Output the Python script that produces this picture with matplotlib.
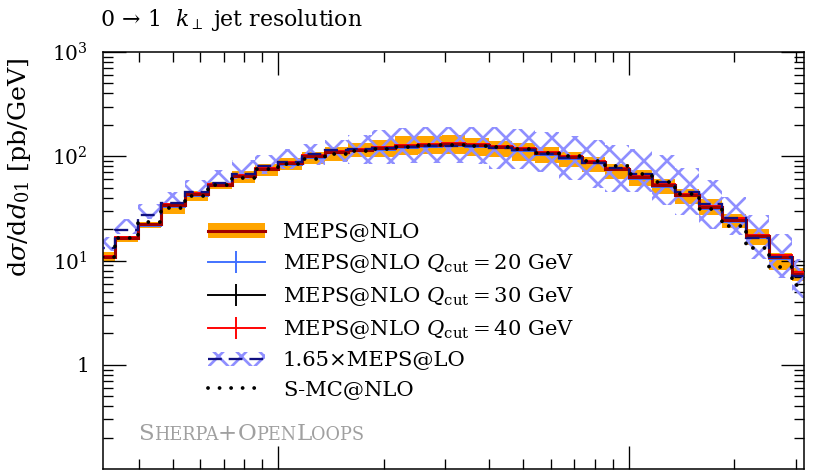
import numpy as np
import matplotlib
matplotlib.use("Agg")
import matplotlib.pyplot as plt
from matplotlib.patches import Patch
from matplotlib.lines import Line2D

W, H, DPI = 830, 473, 138

# ---- data -------------------------------------------------------------
# bin edges: 15 log-bins per decade
edges = np.logspace(1 - 8 / 15, 1 + 23 / 15, 32)

meps_nlo = [10.9, 16.6, 22.2, 33.9, 43.2, 53.3, 65.2, 75.7, 85.8, 100.0, 110.9,
            115.8, 120.0, 125.4, 128.2, 131.0, 127.3, 123.7, 116.6, 106.8, 97.8,
            89.0, 75.7, 63.1, 52.6, 42.5, 32.7, 24.6, 17.1, 10.9, 7.5]
meps_nlo_lo = [9.93, 14.9, 20.3, 27.8, 37.3, 48.0, 55.3, 64.5, 73.1, 83.4, 91.0,
               99.3, 99.3, 102.9, 105.2, 105.2, 101.5, 99.3, 91.0, 86.3, 78.6,
               70.4, 60.8, 51.4, 43.0, 34.7, 27.4, 20.6, 14.1, 8.15, 6.31]
meps_nlo_hi = [12.0, 17.3, 23.5, 35.1, 46.4, 56.5, 71.5, 84.5, 95.7, 110.9, 123.7,
               133.0, 144.2, 157.4, 157.4, 160.9, 149.4, 141.1, 133.0, 121.8, 109.2,
               99.3, 84.5, 73.1, 60.0, 48.8, 38.7, 28.0, 20.0, 11.8, 8.45]

qcut20 = [10.5, 16.0, 21.5, 32.6, 41.6, 51.5, 63.0, 73.1, 82.6, 96.5, 107.0,
          111.5, 116.0, 120.8, 123.6, 126.5, 122.6, 119.0, 112.5, 102.9, 94.4,
          85.9, 73.2, 61.0, 50.9, 41.2, 31.5, 23.6, 16.3, 10.3, 7.1]
qcut30 = [10.8, 16.5, 22.0, 33.5, 42.8, 52.9, 64.6, 75.1, 85.0, 99.1, 110.0,
          114.8, 119.0, 124.2, 127.1, 129.8, 126.1, 122.6, 115.5, 105.9, 96.9,
          88.2, 75.0, 62.5, 52.0, 42.0, 32.3, 24.3, 16.8, 10.7, 7.35]
qcut40 = [11.1, 16.9, 22.6, 34.5, 44.0, 54.3, 66.4, 77.1, 87.4, 101.8, 112.9,
          118.0, 122.3, 127.8, 130.6, 133.5, 129.8, 126.1, 118.9, 108.9, 99.7,
          90.8, 77.3, 64.4, 53.8, 43.5, 33.5, 25.3, 17.6, 11.3, 7.8]

meps_lo = [13.3, 19.6, 27.2, 35.9, 45.4, 55.3, 67.8, 80.3, 89.0, 104.5, 114.0,
           116.6, 119.2, 123.2, 124.5, 125.9, 124.5, 119.2, 114.0, 104.5, 95.7,
           85.8, 76.9, 67.4, 56.5, 45.4, 34.9, 25.7, 16.6, 10.7, 7.04]
meps_lo_dn = [12.2, 18.1, 25.1, 34.1, 43.5, 51.8, 60.4, 67.4, 75.2, 82.1, 87.7,
              83.9, 83.9, 85.8, 85.8, 85.8, 83.9, 75.7, 75.7, 70.4, 59.1,
              49.6, 45.4, 45.4, 34.1, 27.4, 20.2, 17.7, 10.4, 6.74, 4.35]
meps_lo_up = [16.9, 25.1, 35.1, 45.4, 59.1, 73.6, 91.6, 102.2, 116.6, 131.0, 142.0,
              158.5, 176.9, 184.8, 188.9, 188.9, 188.9, 188.9, 182.0, 169.3, 155.0,
              142.0, 127.3, 116.6, 102.2, 76.9, 59.1, 40.7, 27.4, 18.1, 10.4]

smc_nlo = [10.9, 16.4, 23.5, 31.8, 41.3, 52.6, 62.4, 74.7, 84.5, 95.1, 104.5,
           113.3, 117.4, 123.7, 127.3, 128.2, 124.5, 123.7, 116.6, 108.4, 100.0,
           91.0, 79.8, 67.8, 56.5, 43.5, 31.1, 21.5, 13.3, 8.67, 5.78]

labels = ["MEPS@NLO",
          r"MEPS@NLO $Q_{\mathrm{cut}} = 20$ GeV",
          r"MEPS@NLO $Q_{\mathrm{cut}} = 30$ GeV",
          r"MEPS@NLO $Q_{\mathrm{cut}} = 40$ GeV",
          "1.65×MEPS@LO",
          "S-MC@NLO"]
ytick_vals = [1, 10, 100, 1000]
ytick_labels = [r"$1$", r"$10^{1}$", r"$10^{2}$", r"$10^{3}$"]
title = r"$0\,\rightarrow\,1$  $k_\perp$ jet resolution"
ylabel = r"$\mathrm{d}\sigma/\mathrm{d}d_{01}$ [pb/GeV]"

# ---- style ------------------------------------------------------------
plt.rcParams["font.family"] = ["DejaVu Serif"]
plt.rcParams["mathtext.fontset"] = "dejavuserif"
plt.rcParams["hatch.linewidth"] = 1.4
FS = 11

C_ORANGE = "#ffa500"
C_DRED = "#a00000"
C_BLUE = "#3f6fff"
C_RED = "#ff0000"
C_NAVY = "#101080"
C_HATCH = "#8f8fff"
DOTS = (0, (0.01, 3.0))

fig = plt.figure(figsize=(W / DPI, H / DPI), dpi=DPI)
ax = fig.add_axes([103 / W, 4 / H, 701 / W, 417 / H])
ax.set_xscale("log")
ax.set_yscale("log")
ax.set_xlim(10 ** 0.5, 10 ** 2.5)
ax.set_ylim(0.1, 1000)

ax.stairs(meps_nlo_hi, edges, baseline=meps_nlo_lo, fill=True,
          facecolor=C_ORANGE, edgecolor="none", lw=0, zorder=1)
ax.stairs(meps_lo_up, edges, baseline=meps_lo_dn, fill=True,
          facecolor="none", edgecolor=C_HATCH, hatch="xx", lw=0, zorder=2)
ax.stairs(qcut20, edges, baseline=None, color=C_BLUE, lw=1.0, zorder=3)
ax.stairs(qcut30, edges, baseline=None, color="black", lw=1.0, zorder=3)
ax.stairs(qcut40, edges, baseline=None, color=C_RED, lw=1.0, zorder=3)
ax.stairs(meps_nlo, edges, baseline=None, color=C_DRED, lw=1.6, zorder=4)
ax.stairs(meps_lo, edges, baseline=None, color=C_NAVY, lw=1.2,
          linestyle=(0, (6, 3)), zorder=5)
smc = ax.stairs(smc_nlo, edges, baseline=None, color="black", lw=2.0,
                linestyle=DOTS, zorder=6)
smc.set_capstyle("round")

# ticks
ax.set_yticks(ytick_vals)
ax.set_yticklabels(ytick_labels)
ax.tick_params(axis="both", which="both", direction="in", top=True, right=True)
ax.tick_params(axis="both", which="major", length=12, width=0.7)
ax.tick_params(axis="both", which="minor", length=5, width=0.7)
ax.tick_params(axis="y", which="major", labelsize=10.5, pad=8)
ax.tick_params(axis="x", which="both", labelbottom=False)
for s in ax.spines.values():
    s.set_linewidth(0.8)

fig.text(100 / W, 1 - 20 / H, title, fontsize=11.5, ha="left", va="center")
fig.text(20 / W, 1 - 58 / H, ylabel, fontsize=13.2, rotation=90,
         ha="center", va="top")

# legend
h_nlo = (Patch(facecolor=C_ORANGE, edgecolor="none"),
         Line2D([], [], color=C_DRED, lw=1.6))
h20 = Line2D([], [], color=C_BLUE, lw=1.0, marker="|", markersize=11, mew=1.0)
h30 = Line2D([], [], color="black", lw=1.0, marker="|", markersize=11, mew=1.0)
h40 = Line2D([], [], color=C_RED, lw=1.0, marker="|", markersize=11, mew=1.0)
h_lo = (Patch(facecolor="none", edgecolor=C_HATCH, hatch="xx", lw=0),
        Line2D([], [], color=C_NAVY, lw=1.2, linestyle=(0, (6, 3))))
h_smc = Line2D([], [], color="black", lw=2.0, linestyle=DOTS,
               dash_capstyle="round")
leg = ax.legend([h_nlo, h20, h30, h40, h_lo, h_smc], labels,
                loc="upper left", bbox_to_anchor=(208 / W, 1 - 223 / H),
                bbox_transform=fig.transFigure, frameon=False, fontsize=FS,
                handlelength=2.7, handletextpad=0.85, labelspacing=0.48,
                borderpad=0, borderaxespad=0, numpoints=1)

# Sherpa+OpenLoops small caps
fig.canvas.draw()
rend = fig.canvas.get_renderer()
pieces = [("S", 12), ("HERPA", 9.2), ("+", 12), ("O", 12), ("PEN", 9.2),
          ("L", 12), ("OOPS", 9.2)]
x = 138.0
for txt, sz in pieces:
    t = fig.text(x / W, 1 - 440 / H, txt, fontsize=sz, color="#a0a0a0",
                 ha="left", va="baseline")
    bb = t.get_window_extent(rend)
    x += bb.width

fig.savefig("out.png", dpi=DPI)
